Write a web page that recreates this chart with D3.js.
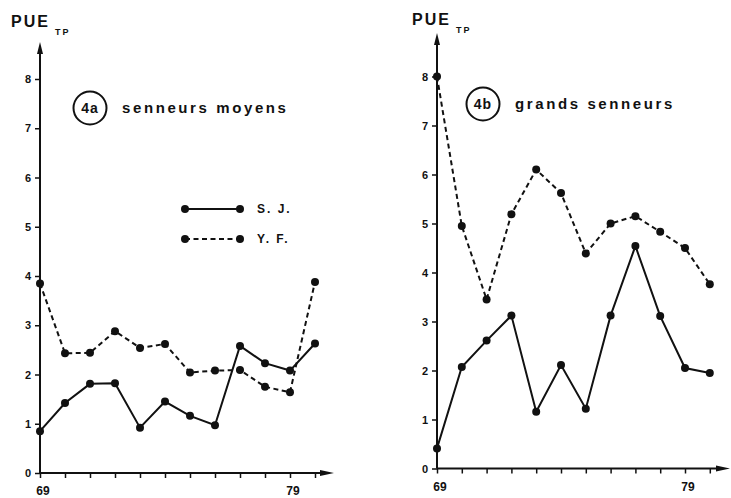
<!DOCTYPE html>
<html><head><meta charset="utf-8">
<script src="https://cdn.jsdelivr.net/npm/d3@7"></script>
<style>body{margin:0;background:#fff}svg{display:block}text{font-family:"Liberation Sans",Arial,sans-serif;font-weight:bold;fill:#111}</style>
</head><body><svg id="c" width="731" height="498"></svg>
<script>
const years = [69,70,71,72,73,74,75,76,77,78,79,80];
const yTicks = [0,1,2,3,4,5,6,7,8];
const xTickLabels = ["69","79"];
const sjMoyens = [0.85,1.42,1.81,1.82,0.92,1.45,1.16,0.97,2.58,2.23,2.08,2.63];
const yfMoyens = [3.85,2.43,2.44,2.88,2.54,2.62,2.04,2.08,2.09,1.75,1.64,3.88];
const sjGrands = [0.41,2.07,2.61,3.12,1.16,2.11,1.22,3.12,4.54,3.11,2.05,1.95];
const yfGrands = [8.0,4.95,3.45,5.19,6.1,5.62,4.39,5.0,5.15,4.83,4.5,3.76];
const seriesNames = ["S. J.","Y. F."];

const svg = d3.select("#c");
const ink = "#111";

function panel(o){
  const g = svg.append("g");
  const x = d3.scaleLinear().domain([69,80]).range([o.x0, o.x0 + 11*o.dx]);
  const y = d3.scaleLinear().domain([0,8]).range([o.y0, o.y0 - 8*o.dy]);
  const yAx = g.append("g").attr("transform",`translate(${o.x0},0)`)
    .call(d3.axisLeft(y).tickValues(yTicks).tickSize(5).tickFormat(d3.format("d")));
  yAx.select(".domain").remove();
  yAx.selectAll("line").attr("stroke",ink).attr("stroke-width",1.5);
  yAx.selectAll("text").attr("font-size",11).attr("dx",-1);
  g.append("line").attr("x1",o.x0).attr("x2",o.x0).attr("y1",o.y0).attr("y2",o.yTop+8).attr("stroke",ink).attr("stroke-width",2);
  g.append("path").attr("d",`M${o.x0-3},${o.yTop+12}L${o.x0},${o.yTop}L${o.x0+3},${o.yTop+12}Z`).attr("fill",ink);
  const xAx = g.append("g").attr("transform",`translate(0,${o.y0})`)
    .call(d3.axisBottom(x).tickValues(years).tickSize(5).tickFormat(""));
  xAx.select(".domain").remove();
  xAx.selectAll("line").attr("stroke",ink).attr("stroke-width",1.5);
  g.append("line").attr("x1",o.x0).attr("x2",o.xEnd-8).attr("y1",o.y0).attr("y2",o.y0).attr("stroke",ink).attr("stroke-width",2);
  g.append("path").attr("d",`M${o.xEnd-14},${o.y0-3}L${o.xEnd},${o.y0}L${o.xEnd-14},${o.y0+3}Z`).attr("fill",ink);
  g.selectAll(".xl").data(xTickLabels).enter().append("text")
    .attr("x",d=>x(+d)+3).attr("y",o.y0+22).attr("text-anchor","middle").attr("font-size",12).text(d=>d);
  const t = g.append("text").attr("x",o.titleX).attr("y",o.titleY).attr("font-size",16).attr("letter-spacing",2);
  t.append("tspan").text("PUE");
  t.append("tspan").attr("font-size",9).attr("dx",5).attr("dy",8).attr("letter-spacing",2).text("TP");
  g.append("circle").attr("cx",o.cx).attr("cy",o.cy).attr("r",16.5).attr("fill","none").attr("stroke",ink).attr("stroke-width",2);
  g.append("text").attr("x",o.cx).attr("y",o.cy+5).attr("text-anchor","middle").attr("font-size",14).attr("letter-spacing",1).text(o.tag);
  g.append("text").attr("x",o.cx+32).attr("y",o.cy+5).attr("font-size",15).attr("letter-spacing",2.6).text(o.label);
  const line = d3.line().x((d,i)=>x(years[i])).y(d=>y(d));
  [[o.yf,"5,3.5"],[o.sj,null]].forEach(([vals,dash])=>{
    g.append("path").datum(vals).attr("d",line).attr("fill","none").attr("stroke",ink).attr("stroke-width",2)
      .attr("stroke-dasharray",dash);
    g.selectAll(null).data(vals).enter().append("circle")
      .attr("cx",(d,i)=>x(years[i])).attr("cy",d=>y(d)).attr("r",4).attr("fill",ink);
  });
  return {x,y};
}

panel({x0:40,dx:25,y0:473,dy:49.25,yTop:42,xEnd:334,sj:sjMoyens,yf:yfMoyens,
  titleX:11,titleY:27,cx:90,cy:108,tag:"4a",label:"senneurs moyens"});
panel({x0:437,dx:24.8,y0:468.5,dy:49,yTop:33,xEnd:730,sj:sjGrands,yf:yfGrands,
  titleX:412,titleY:25,cx:483,cy:104,tag:"4b",label:"grands senneurs"});

const leg = svg.append("g");
[[209,null],[239,"5,3.5"]].forEach(([ly,dash],i)=>{
  leg.append("line").attr("x1",185).attr("x2",240).attr("y1",ly).attr("y2",ly).attr("stroke",ink).attr("stroke-width",2).attr("stroke-dasharray",dash);
  leg.selectAll(null).data([185,240]).enter().append("circle").attr("cx",d=>d).attr("cy",ly).attr("r",4).attr("fill",ink);
  leg.append("text").attr("x",257).attr("y",ly+4).attr("font-size",12).attr("letter-spacing",2).text(seriesNames[i]);
});
</script></body></html>
